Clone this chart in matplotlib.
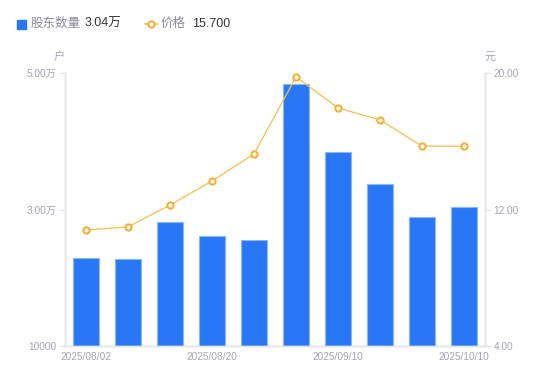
import matplotlib
matplotlib.use("Agg")
import matplotlib.pyplot as plt

plt.rcParams['font.family'] = ['Liberation Sans', 'Noto Sans CJK SC', 'DejaVu Sans']

# donnees
dates = ['2025/08/02', '2025/08/08', '2025/08/15', '2025/08/20', '2025/08/29',
         '2025/08/31', '2025/09/10', '2025/09/19', '2025/09/30', '2025/10/10']
holders = [22890, 22750, 28170, 26120, 25530, 48390, 38420, 33740, 28900, 30370]
prices = [10.80, 10.98, 12.26, 13.67, 15.25, 19.77, 17.95, 17.25, 15.72, 15.70]
shown_labels = ['2025/08/02', '2025/08/20', '2025/09/10', '2025/10/10']
left_ticks = [10000, 30000, 50000]
left_labels = ['10000', '3.00万', '5.00万']
right_ticks = [4, 12, 20]
right_labels = ['4.00', '12.00', '20.00']

blue = '#2878F5'
orange = '#F7B034'
grey = '#A3A3B3'
axc = '#E3E3E8'

fig = plt.figure(figsize=(5.5, 3.81), dpi=100)
ax = fig.add_axes([65/550, 35/381, 420/550, 273/381])
x = range(len(dates))
ax.bar(x, holders, width=0.6, color=blue, edgecolor='#8DB6F8', linewidth=0.8, bottom=0)
ax.set_ylim(10000, 50000)
ax.set_xlim(-0.5, len(dates) - 0.5)
ax.set_yticks(left_ticks)
ax.set_yticklabels(left_labels)
ax.set_xticks([dates.index(d) for d in shown_labels])
ax.set_xticklabels(shown_labels)

ax2 = ax.twinx()
ax2.plot(x, prices, color='#F8BE4E', lw=0.9)
ax2.plot(x, prices, ls='none', marker='o', ms=4.5, mfc='white',
         mec=orange, mew=1.5)
ax2.set_ylim(4, 20)
ax2.set_yticks(right_ticks)
ax2.set_yticklabels(right_labels)

for a in (ax, ax2):
    for s in a.spines.values():
        s.set_color(axc)
        s.set_linewidth(1)
    a.spines['top'].set_visible(False)
    a.tick_params(colors=grey, labelsize=7.3, length=4, width=0.8, color=axc)
ax.tick_params(axis='x', length=0, pad=4)
ax.tick_params(axis='y', pad=2)
ax2.tick_params(axis='y', pad=2)

fig.text(59/550, 1 - 57/381, '户', color=grey, fontsize=8, ha='center', va='center')
fig.text(490/550, 1 - 57/381, '元', color=grey, fontsize=8, ha='center', va='center')

# legende
fig.patches.append(plt.Rectangle((17/550, 1 - 29/381), 9/550, 9/381,
                                 transform=fig.transFigure, color=blue))
fig.text(31/550, 1 - 24/381, '股东数量', color='#8A8A99', fontsize=9, va='center')
fig.text(85/550, 1 - 24/381, '3.04万', color='#333333', fontsize=9, va='center')
fig.lines.append(plt.Line2D([145/550, 157/550], [1 - 24/381, 1 - 24/381],
                            transform=fig.transFigure, color='#F8BE4E', lw=1.2))
fig.lines.append(plt.Line2D([151/550], [1 - 24/381], transform=fig.transFigure,
                            color=orange, marker='o', ms=4.5, mfc='white', mew=1.5))
fig.text(161/550, 1 - 24/381, '价格', color='#8A8A99', fontsize=9, va='center')
fig.text(192/550, 1 - 24/381, '15.700', color='#333333', fontsize=9, va='center')

fig.savefig('out.png', dpi=100)
